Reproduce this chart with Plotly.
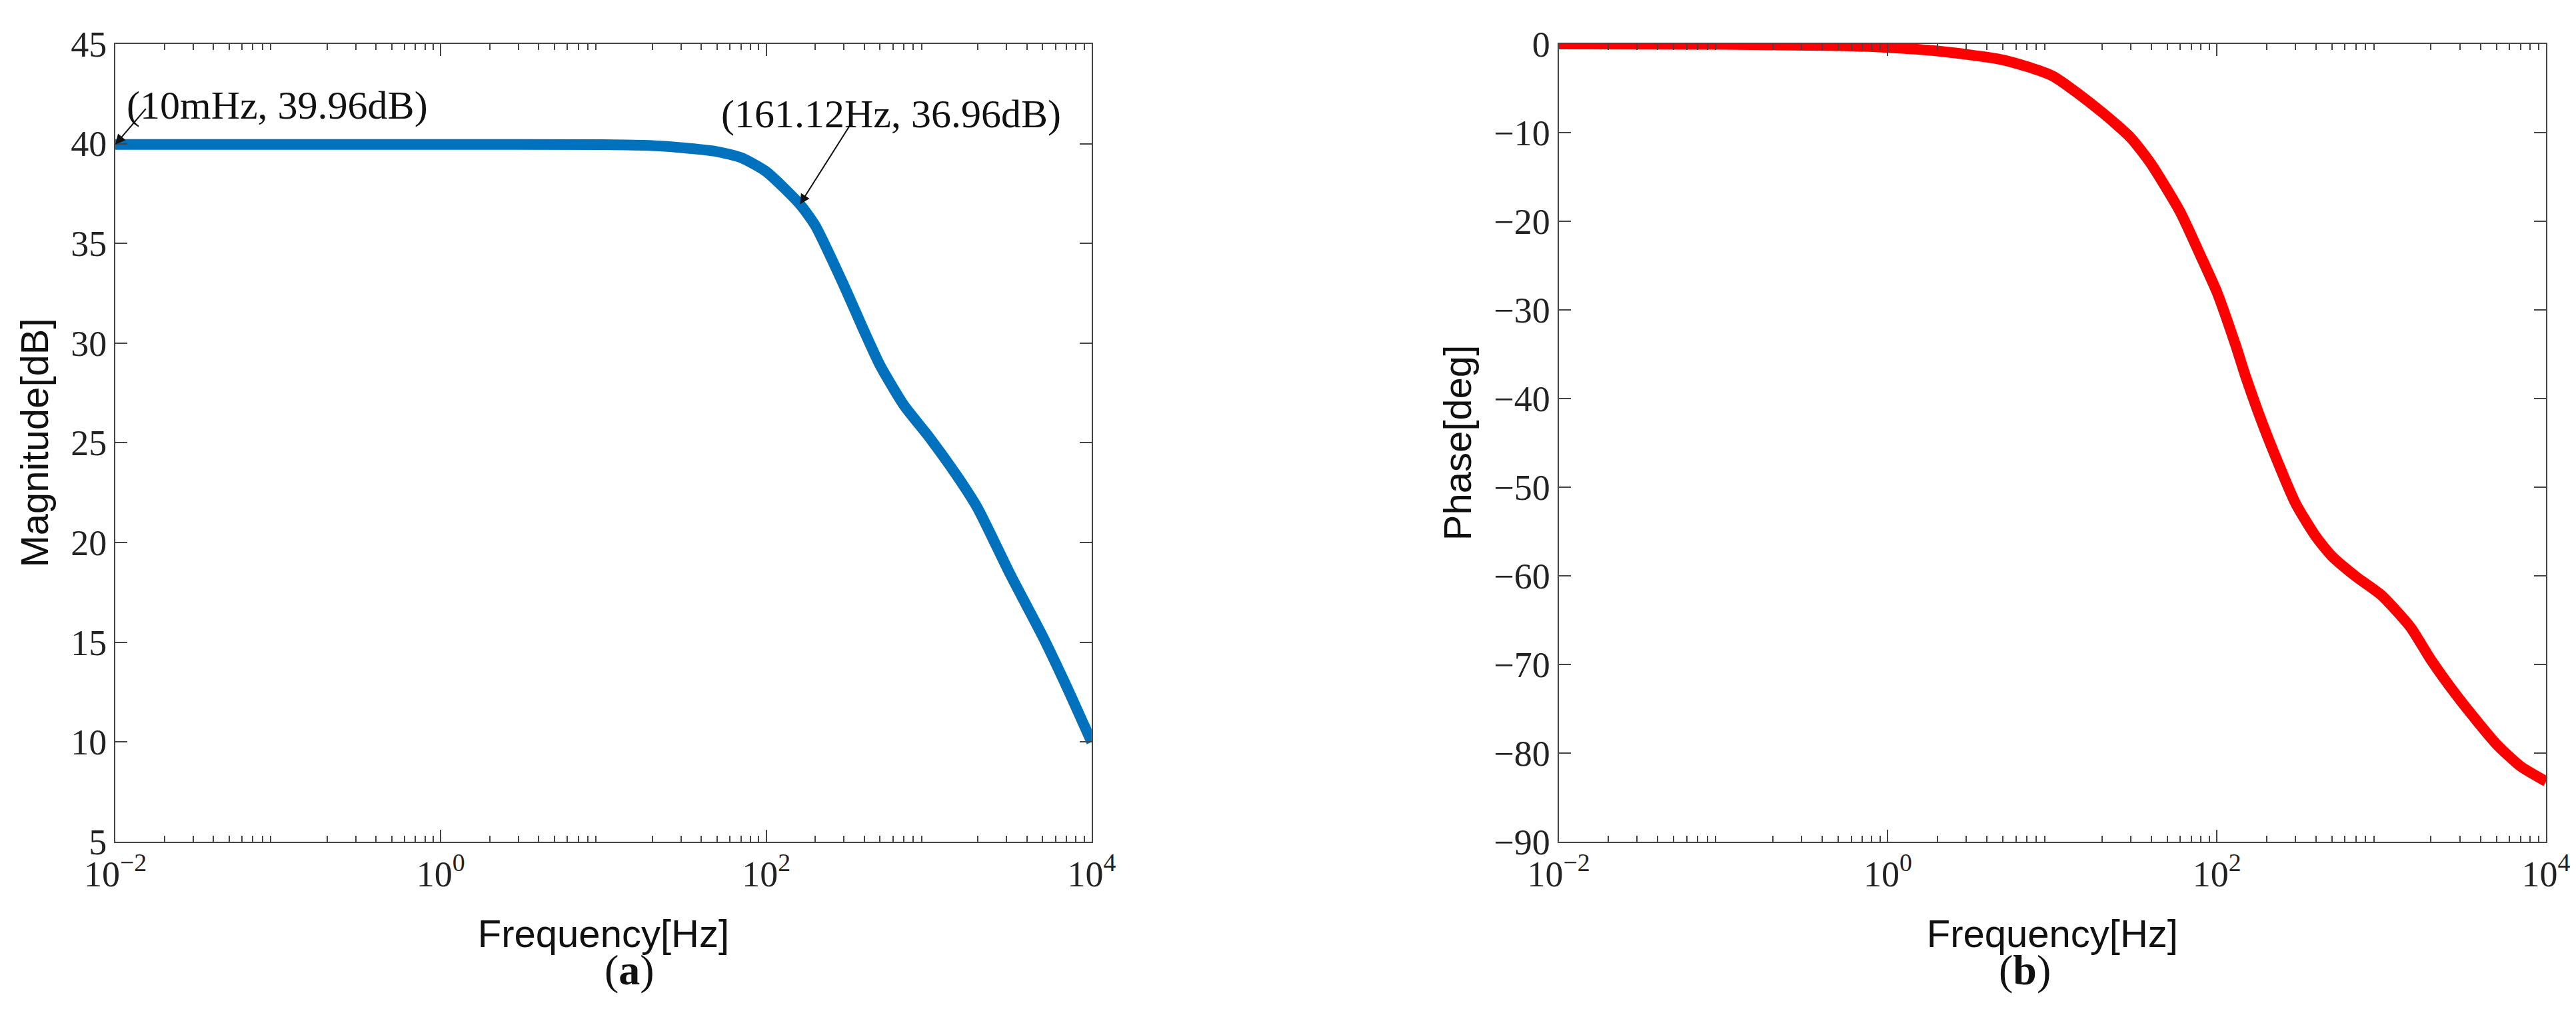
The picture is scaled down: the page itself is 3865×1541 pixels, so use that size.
import numpy as np
import plotly.graph_objects as go

freq_mag = [0.01, 0.1, 1, 10, 20, 30, 50, 70, 100, 161.12, 200, 300, 400, 500, 700, 1000, 1500, 2000, 3162, 5000, 7000, 10000]
mag_db = [39.96, 39.96, 39.96, 39.95, 39.9, 39.8, 39.6, 39.3, 38.6, 36.96, 35.9, 32.9, 30.6, 28.9, 26.9, 25.3, 23.3, 21.7, 18.4, 15.3, 12.8, 10.0]

freq_ph = [0.01, 0.1, 0.5, 1, 2, 5, 10, 20, 30, 40, 60, 80, 100, 130, 150, 200, 300, 400, 500, 700, 1000, 1500, 2000, 3000, 5000, 7000, 10000]
phase_deg = [0.0, -0.05, -0.2, -0.4, -0.8, -1.8, -3.6, -7.7, -10.6, -13.6, -19.0, -24.0, -28.0, -34.0, -37.6, -44.0, -51.8, -55.6, -57.8, -60.1, -62.2, -65.8, -69.5, -74.0, -79.0, -81.5, -83.2]

tick_vals = [0.01, 1, 100, 10000]
tick_text = ["10<sup>−2</sup>", "10<sup>0</sup>", "10<sup>2</sup>", "10<sup>4</sup>"]
mag_ticks = [5, 10, 15, 20, 25, 30, 35, 40, 45]
ph_ticks = [0, -10, -20, -30, -40, -50, -60, -70, -80, -90]
ph_text = ["0"] + ["−%d" % (-v) for v in ph_ticks[1:]]

minor_vals = [m * 10.0 ** e for e in range(-2, 4) for m in range(2, 10)]

serif = "Liberation Serif"
sans = "Liberation Sans"

fig = go.Figure()
fig.add_trace(go.Scatter(x=freq_mag, y=mag_db, mode="lines", line=dict(color="#0072BD", width=16, shape="spline", smoothing=0.6),
                         xaxis="x", yaxis="y", showlegend=False))
fig.add_trace(go.Scatter(x=freq_ph, y=phase_deg, mode="lines", line=dict(color="#FF0000", width=16, shape="spline", smoothing=0.6),
                         xaxis="x2", yaxis="y2", showlegend=False))

def xax(domain, anchor):
    return dict(type="log", domain=domain, anchor=anchor, range=[-2, 4], tickvals=tick_vals, ticktext=tick_text,
                ticks="inside", ticklen=18, tickwidth=2, mirror="ticks", showline=True, linecolor="#444", linewidth=2,
                showgrid=False, zeroline=False, automargin=False, tickfont=dict(family=serif, size=54, color="#222"),
                minor=dict(tickvals=minor_vals, ticks="inside", ticklen=9, tickwidth=1.5, tickcolor="#444", showgrid=False),
                title=dict(text="Frequency[Hz]", font=dict(family=sans, size=58, color="#111"), standoff=40))

def yax(domain, anchor, rng, tv, tt, title):
    return dict(domain=domain, anchor=anchor, range=rng, tickvals=tv, ticktext=tt, ticks="inside", ticklen=18,
                tickwidth=2, mirror="ticks", showline=True, linecolor="#444", linewidth=2, showgrid=False,
                zeroline=False, automargin=False, tickfont=dict(family=serif, size=54, color="#222"),
                title=dict(text=title, font=dict(family=sans, size=58, color="#111"), standoff=15))

ydom = [0.1856, 0.9624]
fig.update_layout(
    width=3865, height=1541, margin=dict(l=0, r=0, t=0, b=0, autoexpand=False),
    paper_bgcolor="white", plot_bgcolor="white",
    xaxis=xax([0.0427, 0.4217], "y"),
    yaxis=yax(ydom, "x", [5, 45], mag_ticks, [str(v) for v in mag_ticks], "Magnitude[dB]"),
    xaxis2=xax([0.603, 0.9863], "y2"),
    yaxis2=yax(ydom, "x2", [-90, 0], ph_ticks, ph_text, "Phase[deg]"),
)

anns = [
    dict(x=-2, y=39.96, xref="x", yref="y", text="", showarrow=True, arrowhead=2, arrowsize=1.5, arrowwidth=2,
         ax=47, ay=-55, arrowcolor="#111"),
    dict(x=np.log10(161.12), y=36.96, xref="x", yref="y", text="", showarrow=True, arrowhead=2, arrowsize=1.5,
         arrowwidth=2, ax=76, ay=-120, arrowcolor="#111"),
    dict(x=180 / 3865, y=1 - 150 / 1541, xref="paper", yref="paper", text="(10mHz, 39.96dB)", showarrow=False,
         xanchor="left", yanchor="middle", font=dict(family=serif, size=60, color="#111")),
    dict(x=1329 / 3865, y=1 - 163 / 1541, xref="paper", yref="paper", text="(161.12Hz, 36.96dB)", showarrow=False,
         xanchor="center", yanchor="middle", font=dict(family=serif, size=60, color="#111")),
    dict(x=0.2322, y=1 - 1485 / 1541, xref="paper", yref="paper", text="(<b>a</b>)", showarrow=False,
         font=dict(family=serif, size=64, color="#111")),
    dict(x=0.7946, y=1 - 1485 / 1541, xref="paper", yref="paper", text="(<b>b</b>)", showarrow=False,
         font=dict(family=serif, size=64, color="#111")),
]
fig.update_layout(annotations=anns)
fig.write_html("out.html")
